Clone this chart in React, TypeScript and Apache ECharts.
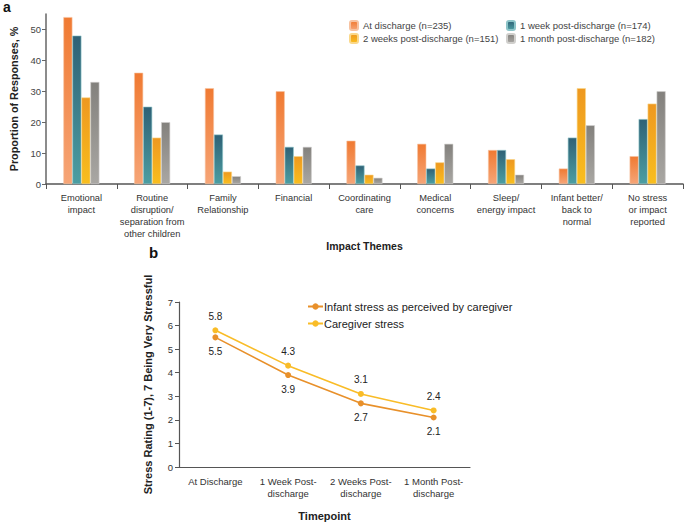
import React, { useEffect, useRef } from "react";
import * as echarts from "echarts";

const themes = [
  "Emotional\nimpact",
  "Routine\ndisruption/\nseparation from\nother children",
  "Family\nRelationship",
  "Financial",
  "Coordinating\ncare",
  "Medical\nconcerns",
  "Sleep/\nenergy impact",
  "Infant better/\nback to\nnormal",
  "No stress\nor impact\nreported",
];
const atDischarge = [54, 36, 31, 30, 14, 13, 11, 5, 9];
const oneWeek = [48, 25, 16, 12, 6, 5, 11, 15, 21];
const twoWeeks = [28, 15, 4, 9, 3, 7, 8, 31, 26];
const oneMonth = [33, 20, 2.5, 12, 2, 13, 3, 19, 30];
const barNames = [
  "At discharge (n=235)",
  "1 week post-discharge (n=174)",
  "2 weeks post-discharge (n=151)",
  "1 month post-discharge (n=182)",
];
const yTicksA = [0, 10, 20, 30, 40, 50];

const timepoints = ["At Discharge", "1 Week Post-\ndischarge", "2 Weeks Post-\ndischarge", "1 Month Post-\ndischarge"];
const infantStress = [5.5, 3.9, 2.7, 2.1];
const caregiverStress = [5.8, 4.3, 3.1, 2.4];
const lineNames = ["Infant stress as perceived by caregiver", "Caregiver stress"];

const FONT = "'Liberation Sans', Arial, sans-serif";

function grad(top: string, bottom: string) {
  return new echarts.graphic.LinearGradient(0, 0, 0, 1, [
    { offset: 0, color: top },
    { offset: 1, color: bottom },
  ]);
}

export default function App() {
  const ref = useRef<HTMLDivElement>(null);
  useEffect(() => {
    document.body.style.margin = "0";
    const chart = echarts.init(ref.current!, undefined, { renderer: "svg" });
    const barColors = [
      ["#F07A32", "#F6A577", "#F7C2A0"],
      ["#2F6176", "#4C9EA2", "#8CC4C8"],
      ["#EE9820", "#F9BE1E", "#FAD88A"],
      ["#83817D", "#A9A7A3", "#D0CFCC"],
    ];
    const barData = [atDischarge, oneWeek, twoWeeks, oneMonth];
    const barSeries = barData.map((d, i) => ({
      name: barNames[i],
      type: "bar",
      xAxisIndex: 0,
      yAxisIndex: 0,
      data: d,
      barWidth: 9,
      barGap: "0%",
      itemStyle: {
        color: grad(barColors[i][0], barColors[i][1]),
        borderColor: barColors[i][2],
        borderWidth: 0.6,
      },
    }));
    const legendText = { fontSize: 9.5, color: "#444", fontFamily: FONT };
    chart.setOption({
      animation: false,
      textStyle: { fontFamily: FONT },
      title: [
        { text: "a", left: -2, top: -5, textStyle: { fontSize: 14, fontWeight: "bold", color: "#111", fontFamily: FONT } },
        { text: "b", left: 144, top: 240, textStyle: { fontSize: 15, fontWeight: "bold", color: "#111", fontFamily: FONT } },
      ],
      legend: [
        {
          data: [barNames[0], barNames[2]],
          orient: "vertical",
          left: 344,
          top: 15,
          itemWidth: 8,
          itemHeight: 9,
          itemGap: 2,
          textStyle: legendText,
        },
        {
          data: [barNames[1], barNames[3]],
          orient: "vertical",
          left: 501,
          top: 15,
          itemWidth: 8,
          itemHeight: 9,
          itemGap: 2,
          textStyle: legendText,
        },
        {
          data: lineNames,
          orient: "vertical",
          left: 302,
          top: 296,
          itemWidth: 15,
          itemHeight: 8,
          itemGap: 6,
          textStyle: { fontSize: 11, color: "#222", fontFamily: FONT, padding: [0, 0, 0, -4] },
        },
      ],
      grid: [
        { left: 37, right: 2, top: 14, height: 170 },
        { left: 179, right: 215, top: 302, height: 170 },
      ],
      xAxis: [
        {
          gridIndex: 0,
          type: "category",
          data: themes,
          boundaryGap: true,
          name: "Impact Themes",
          nameLocation: "middle",
          nameGap: 42,
          nameTextStyle: { fontSize: 10.5, fontWeight: "bold", color: "#222", fontFamily: FONT },
          axisLine: { lineStyle: { color: "#555", width: 1.5 } },
          axisTick: { show: true, interval: 0, length: 5, lineStyle: { color: "#555" } },
          axisLabel: { interval: 0, fontSize: 9.3, color: "#333", lineHeight: 12, margin: 8, fontFamily: FONT },
        },
        {
          gridIndex: 1,
          type: "category",
          data: timepoints,
          boundaryGap: true,
          name: "Timepoint",
          nameLocation: "middle",
          nameGap: 43,
          nameTextStyle: { fontSize: 11, fontWeight: "bold", color: "#222", fontFamily: FONT },
          axisLine: { lineStyle: { color: "#555", width: 1.2 } },
          axisTick: { show: false },
          axisLabel: { interval: 0, fontSize: 9.5, color: "#333", lineHeight: 12, margin: 8, fontFamily: FONT },
        },
      ],
      yAxis: [
        {
          gridIndex: 0,
          type: "value",
          min: 0,
          max: 55,
          interval: 10,
          name: "Proportion of Responses, %",
          nameLocation: "middle",
          nameGap: 27,
          nameTextStyle: { fontSize: 10.8, fontWeight: "bold", color: "#222", fontFamily: FONT },
          axisLine: { show: true, lineStyle: { color: "#666", width: 1.5 } },
          axisTick: { show: true, length: 4, customValues: yTicksA, lineStyle: { color: "#666" } },
          axisLabel: { fontSize: 9.5, color: "#444", margin: 5, customValues: yTicksA, fontFamily: FONT },
          splitLine: { show: false },
        },
        {
          gridIndex: 1,
          type: "value",
          min: 0,
          max: 7,
          interval: 1,
          name: "Stress Rating (1-7), 7 Being Very Stressful",
          nameLocation: "middle",
          nameGap: 26,
          nameTextStyle: { fontSize: 11, fontWeight: "bold", color: "#222", fontFamily: FONT },
          axisLine: { show: true, lineStyle: { color: "#555", width: 1.2 } },
          axisTick: { show: true, length: 4, lineStyle: { color: "#555" } },
          axisLabel: { fontSize: 9.5, color: "#333", margin: 6, fontFamily: FONT },
          splitLine: { show: false },
        },
      ],
      series: [
        ...barSeries,
        {
          name: lineNames[0],
          type: "line",
          xAxisIndex: 1,
          yAxisIndex: 1,
          data: infantStress,
          symbol: "circle",
          symbolSize: 6,
          lineStyle: { color: "#E8902A", width: 1.6 },
          itemStyle: { color: "#E8902A" },
          label: { show: true, position: "bottom", distance: 6, fontSize: 10, color: "#222", fontFamily: FONT },
        },
        {
          name: lineNames[1],
          type: "line",
          xAxisIndex: 1,
          yAxisIndex: 1,
          data: caregiverStress,
          symbol: "circle",
          symbolSize: 6,
          lineStyle: { color: "#F9BC27", width: 1.6 },
          itemStyle: { color: "#F9BC27" },
          label: { show: true, position: "top", distance: 6, fontSize: 10, color: "#222", fontFamily: FONT },
        },
      ],
    });
    return () => chart.dispose();
  }, []);
  return <div ref={ref} style={{ width: 685, height: 522 }} />;
}
